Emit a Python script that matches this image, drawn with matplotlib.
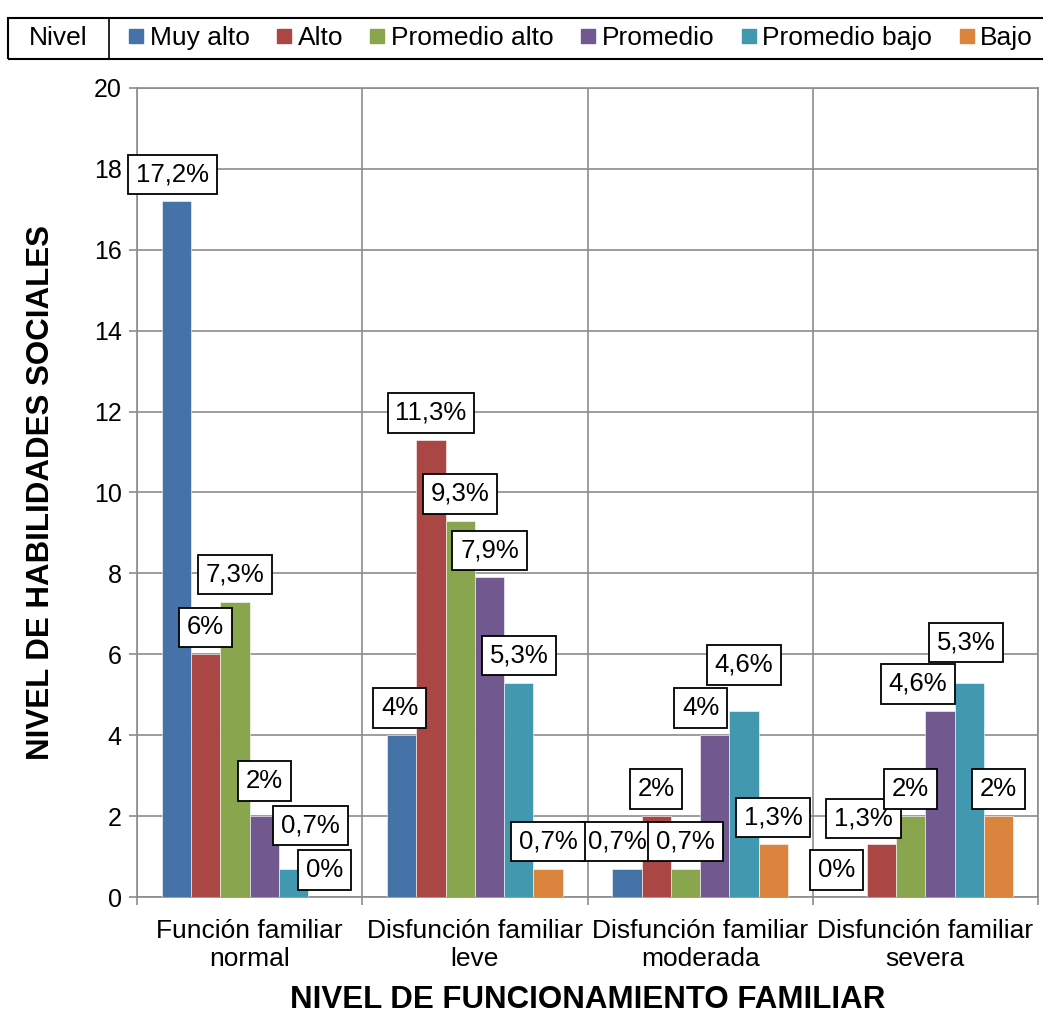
import numpy as np
import matplotlib
matplotlib.use('Agg')
import matplotlib.pyplot as plt
from matplotlib.lines import Line2D
from matplotlib.patches import Rectangle

plt.rcParams['font.family'] = ['Liberation Sans', 'DejaVu Sans']

# Data
categories = ['Función familiar\nnormal', 'Disfunción familiar\nleve',
              'Disfunción familiar\nmoderada', 'Disfunción familiar\nsevera']
series_names = ['Muy alto', 'Alto', 'Promedio alto', 'Promedio', 'Promedio bajo', 'Bajo']
muy_alto = [17.2, 4, 0.7, 0]
alto = [6, 11.3, 2, 1.3]
promedio_alto = [7.3, 9.3, 0.7, 2]
promedio = [2, 7.9, 4, 4.6]
promedio_bajo = [0.7, 5.3, 4.6, 5.3]
bajo = [0, 0.7, 1.3, 2]
series_values = [muy_alto, alto, promedio_alto, promedio, promedio_bajo, bajo]

colors = ['#4572A7', '#AA4643', '#89A54E', '#71588F', '#4198AF', '#DB843D']
grid_color = '#8c8c8c'

# label nudges in pixels (dx, dy above bar top), default (0, 27)
nudges = {
    (0, 0): (-4, 27), (0, 3): (0, 35), (0, 4): (17, 43), (0, 5): (2, 27),
    (1, 0): (-2, 27),
    (2, 0): (-10, 27), (2, 3): (-14, 27), (2, 4): (0, 46),
    (3, 0): (-16, 27), (3, 1): (-18, 26), (3, 3): (-22, 27), (3, 4): (-3, 40),
}

def fmt(v):
    s = ('%g' % v).replace('.', ',')
    return s + '%'

fig = plt.figure(figsize=(10.43, 10.13), dpi=100)
ax = fig.add_axes([137 / 1043, 116 / 1013, 901 / 1043, 809 / 1013])

x = np.arange(len(categories))
width = 0.13
px2pt = 0.72

for j, (name, vals) in enumerate(zip(series_names, series_values)):
    pos = x + (j - 2.5) * width
    ax.bar(pos, vals, width, color=colors[j], edgecolor='white', linewidth=0.4,
           label=name, zorder=3)
    for i, v in enumerate(vals):
        dx, dy = nudges.get((i, j), (0, 27))
        ax.annotate(fmt(v), xy=(pos[i], v), xytext=(dx * px2pt, dy * px2pt),
                    textcoords='offset points', ha='center', va='center',
                    fontsize=18.5, zorder=5,
                    bbox=dict(boxstyle='square,pad=0.3', fc='white', ec='black', lw=1.3))

ax.set_xlim(-0.5, 3.5)
ax.set_ylim(0, 20)
ax.set_yticks(np.arange(0, 21, 2))
ax.set_xticks(np.arange(-0.5, 3.6, 1))
ax.set_xticklabels([])
ax.set_xticks(x, minor=True)
ax.set_xticklabels(categories, minor=True, fontsize=19, linespacing=1.2)
ax.tick_params(axis='x', which='minor', length=0, pad=16)
ax.tick_params(axis='x', which='major', length=6, width=1.2, color=grid_color)
ax.tick_params(axis='y', length=6, width=1.2, color=grid_color, labelsize=18, pad=5)

ax.grid(True, which='major', color=grid_color, linewidth=1.2, zorder=0)
ax.set_axisbelow(True)
for sp in ax.spines.values():
    sp.set_color(grid_color)
    sp.set_linewidth(1.2)

ax.set_xlabel('NIVEL DE FUNCIONAMIENTO FAMILIAR', fontsize=22.5, fontweight='bold', labelpad=10)
ax.set_ylabel('NIVEL DE HABILIDADES SOCIALES', fontsize=22.5, fontweight='bold', labelpad=27)

# Legend strip on top
fig.patches.append(Rectangle((8 / 1043, 1 - 59 / 1013), 1.1, 41 / 1013,
                             transform=fig.transFigure, fill=False, ec='black', lw=1.5))
fig.lines.append(Line2D([109 / 1043, 109 / 1043], [1 - 59 / 1013, 1 - 18 / 1013],
                        transform=fig.transFigure, color='black', lw=1.2))
fig.text(58 / 1043, 1 - 38 / 1013, 'Nivel', fontsize=19, ha='center', va='center')

handles = [Line2D([], [], marker='s', linestyle='none', markersize=10,
                  markerfacecolor=c, markeredgecolor=c) for c in colors]
fig.legend(handles, series_names, loc='center left', ncol=6, frameon=False,
           bbox_to_anchor=(128 / 1043, 1 - 38 / 1013), fontsize=19,
           handlelength=0.6, handletextpad=0.22, columnspacing=1.0,
           borderpad=0, borderaxespad=0)

fig.savefig('out.png', dpi=100)
